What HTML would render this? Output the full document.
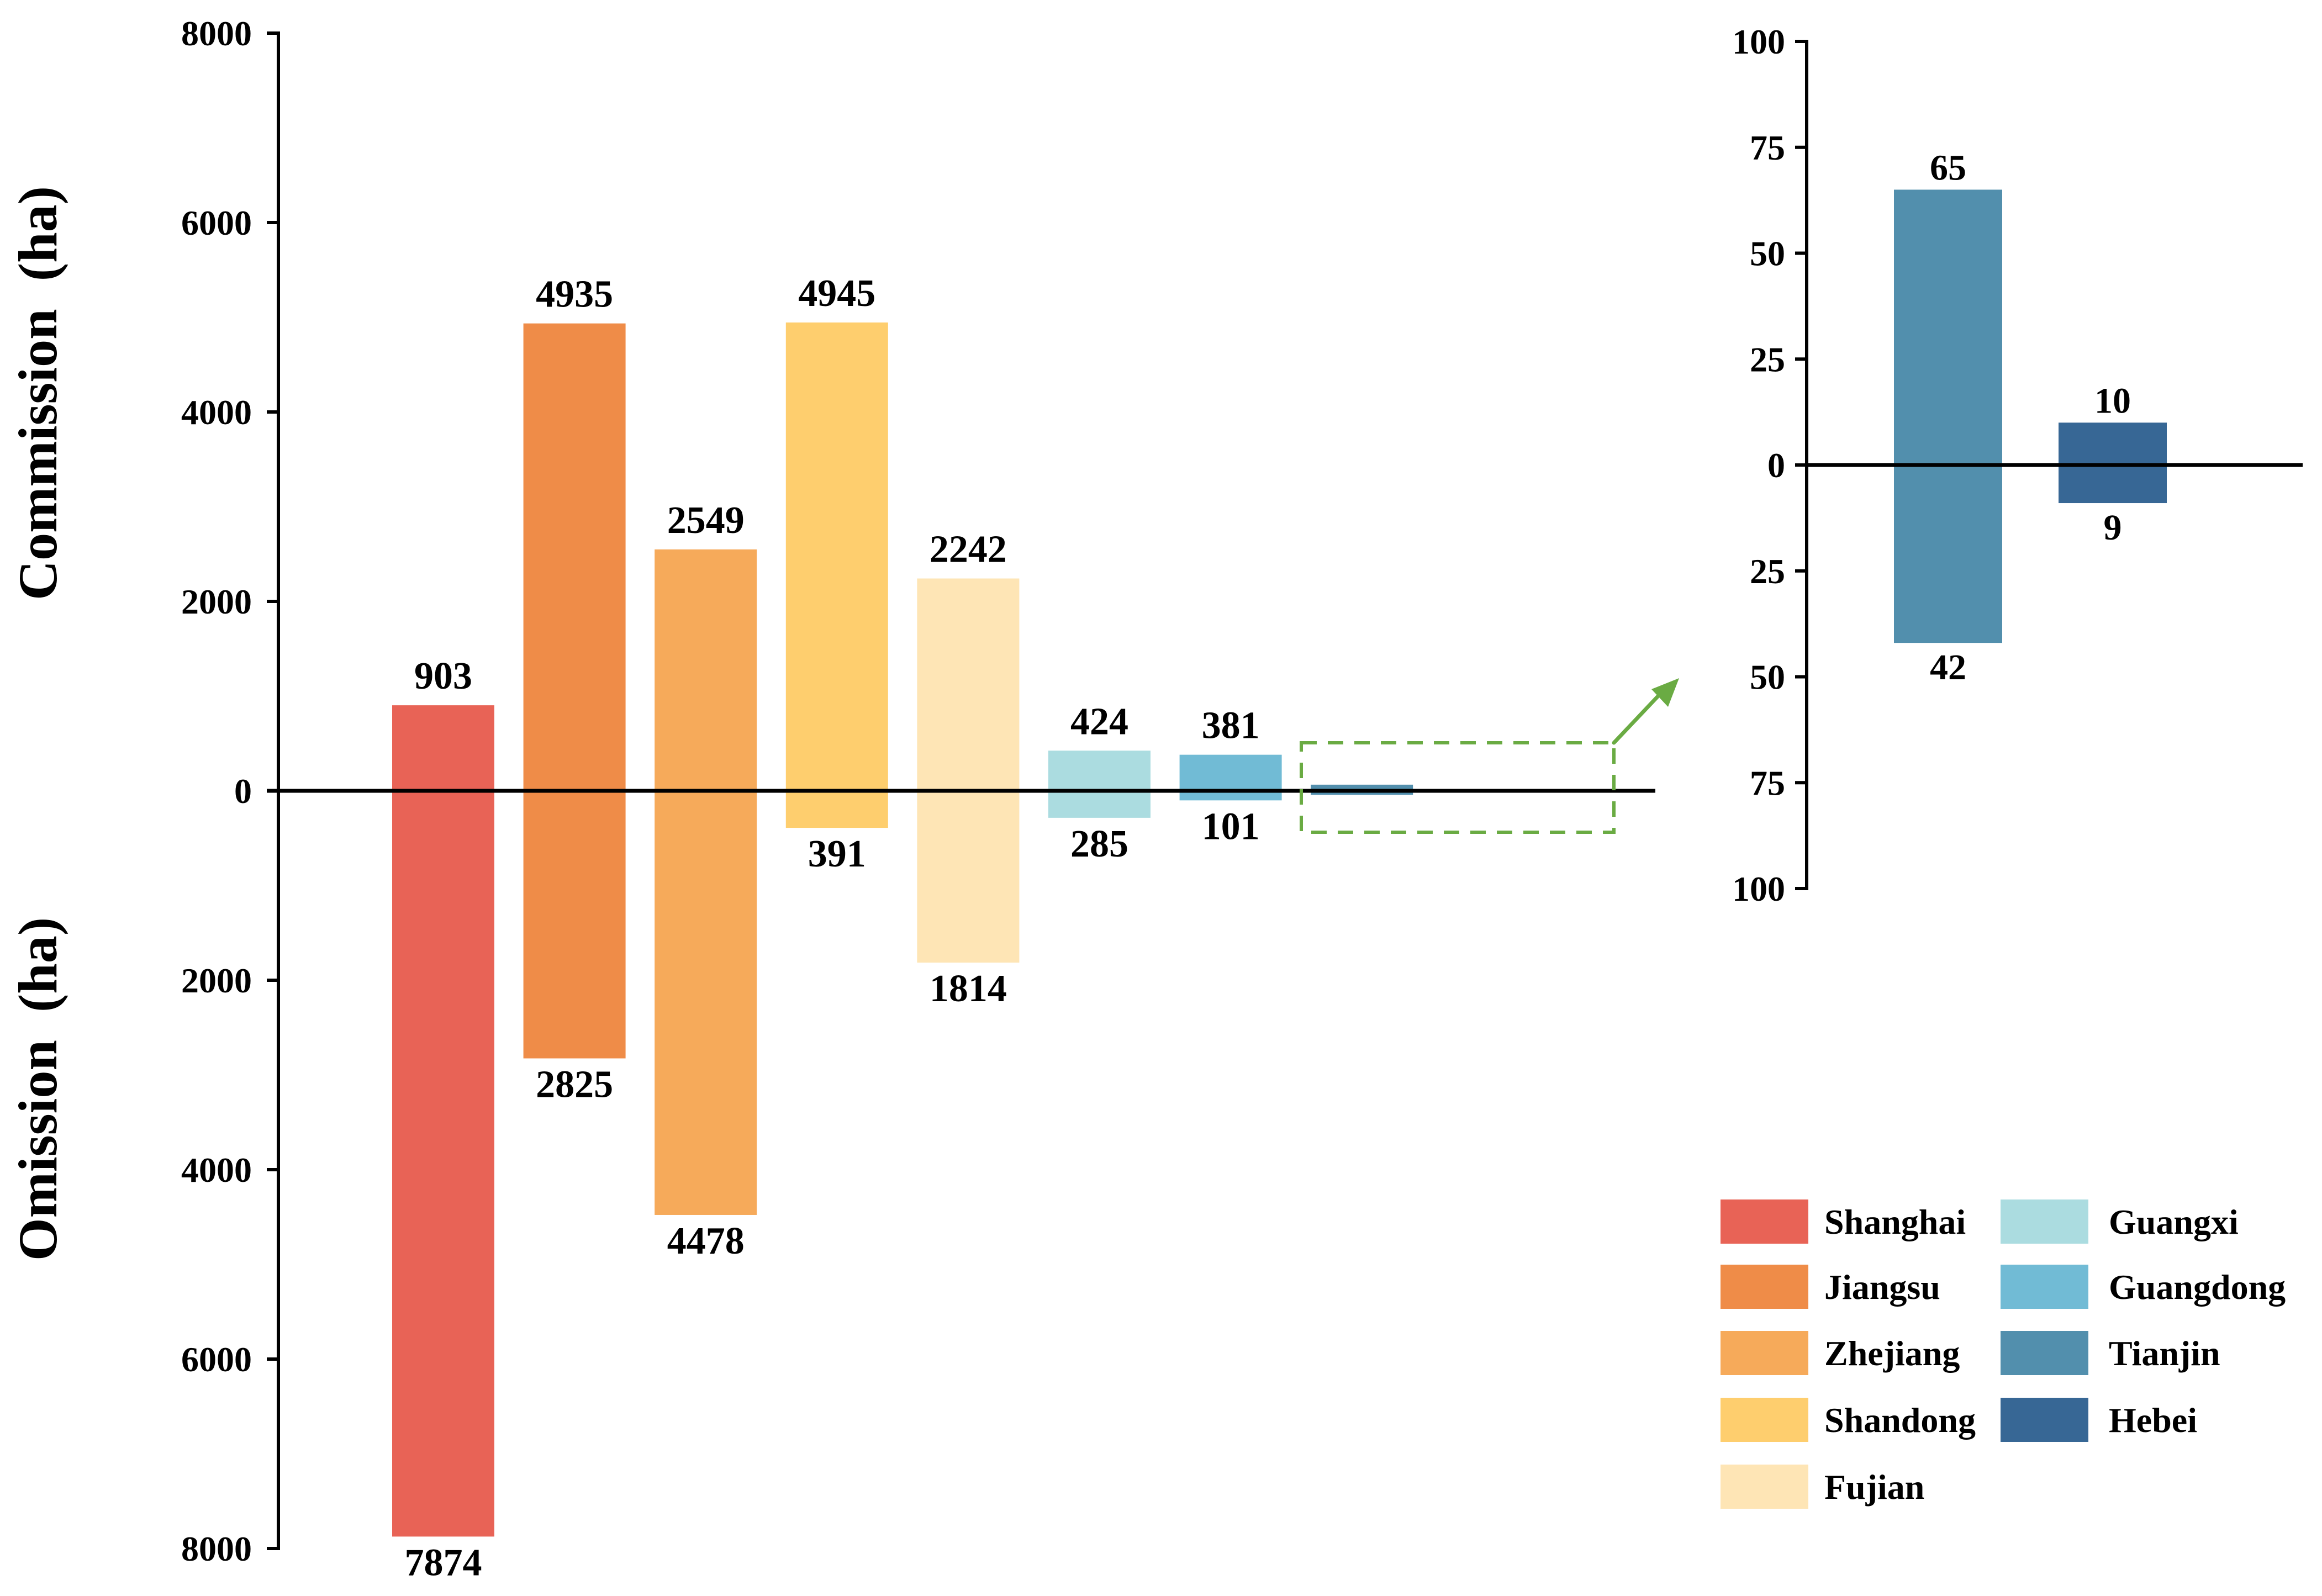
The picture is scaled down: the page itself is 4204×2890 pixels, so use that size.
<!DOCTYPE html>
<html><head><meta charset="utf-8"><style>
html,body{margin:0;padding:0;background:#fff}
svg{display:block}
text{font-family:"Liberation Serif",serif;font-weight:bold;fill:#000}
</style></head><body>
<svg id="chart" width="4204" height="2890" viewBox="0 0 4204 2890" xmlns="http://www.w3.org/2000/svg">
<text transform="translate(102,712) rotate(-90)" text-anchor="middle" font-size="100" xml:space="preserve">Commission  (ha)</text>
<text transform="translate(102,1972) rotate(-90)" text-anchor="middle" font-size="100" xml:space="preserve">Omission  (ha)</text>
<g id="main"></g>
<g id="inset"></g>
<g id="legend"></g>
<rect x="2356" y="1345" width="566" height="162" fill="none" stroke="#6aab43" stroke-width="6" stroke-dasharray="28,20"/>
<line x1="2922" y1="1345" x2="3010" y2="1252" stroke="#6aab43" stroke-width="7" stroke-linecap="round"/>
<polygon points="3040,1228 2990,1248 3020,1280" fill="#6aab43"/>
</svg>
<script>
const NS='http://www.w3.org/2000/svg';
const provinces=['Shanghai','Jiangsu','Zhejiang','Shandong','Fujian','Guangxi','Guangdong','Tianjin','Hebei'];
const colors=['#E86356','#EF8C48','#F6AA5A','#FECE6E','#FEE5B5','#ABDCE0','#71BBD5','#528FAD','#376795'];
const commission=[903,4935,2549,4945,2242,424,381,65,10];
const omission=[7874,2825,4478,391,1814,285,101,42,9];
const mainTicks=[8000,6000,4000,2000,0,2000,4000,6000,8000];
const insetTicks=[100,75,50,25,0,25,50,75,100];
function el(tag,attrs,parent){const e=document.createElementNS(NS,tag);for(const k in attrs)e.setAttribute(k,attrs[k]);parent.appendChild(e);return e;}
const mainG=document.getElementById('main');
const m0=1432, mScale=1372/8000;
const my=v=>m0-v*mScale;
const mx=i=>710+i*237.6;
const mW=185;
let ax=el('line',{x1:504,y1:my(8000)-3,x2:504,y2:my(-8000)+3,stroke:'#000','stroke-width':6},mainG);


mainTicks.forEach((t,i)=>{const v=8000-i*2000;const y=my(v);
 let tk=el('line',{x1:483,y1:y,x2:504,y2:y,stroke:'#000','stroke-width':6},mainG);
 
 
 let tx=el('text',{x:456,y:y+22,'text-anchor':'end','font-size':64},mainG);tx.textContent=t;
 
 
});
for(let i=0;i<8;i++){
 const x=mx(i);const top=my(commission[i]);const bot=my(-omission[i]);
 let r=el('rect',{x:x,y:top,width:mW,height:Math.max(bot-top,1),fill:colors[i]},mainG);
 
 
 if(i<7){
 let a=el('text',{x:x+mW/2,y:top-30,'text-anchor':'middle','font-size':70},mainG);a.textContent=commission[i];
 
 
 let b=el('text',{x:x+mW/2,y:bot+70,'text-anchor':'middle','font-size':70},mainG);b.textContent=omission[i];
 
 
 }
}
let zl=el('line',{x1:483,y1:m0,x2:2997,y2:m0,stroke:'#000','stroke-width':7},mainG);


const inG=document.getElementById('inset');
const i0=842, iScale=767/100;
const iy=v=>i0-v*iScale;
const ix=[3429,3727];const iW=196;
let iax=el('line',{x1:3271,y1:iy(100)-3,x2:3271,y2:iy(-100)+3,stroke:'#000','stroke-width':6},inG);


insetTicks.forEach((t,i)=>{const v=100-i*25;const y=iy(v);
 let tk=el('line',{x1:3250,y1:y,x2:3271,y2:y,stroke:'#000','stroke-width':6},inG);
 
 
 let tx=el('text',{x:3232,y:y+22,'text-anchor':'end','font-size':64},inG);tx.textContent=t;
 
 
});
[7,8].forEach((p,k)=>{
 const x=ix[k];const top=iy(commission[p]);const bot=iy(-omission[p]);
 let r=el('rect',{x:x,y:top,width:iW,height:bot-top,fill:colors[p]},inG);
 
 
 let a=el('text',{x:x+iW/2,y:top-18,'text-anchor':'middle','font-size':66},inG);a.textContent=commission[p];
 
 
 let b=el('text',{x:x+iW/2,y:bot+66,'text-anchor':'middle','font-size':66},inG);b.textContent=omission[p];
 
 
});
let izl=el('line',{x1:3271,y1:i0,x2:4169,y2:i0,stroke:'#000','stroke-width':7},inG);


const lg=document.getElementById('legend');
const rowsY=[2212,2330,2450,2571,2692];
provinces.forEach((p,i)=>{
 const col=i<5?0:1;const row=i<5?i:i-5;
 const sx=col?3622:3115;const cy=rowsY[row];
 let s=el('rect',{x:sx,y:cy-40,width:159,height:80,fill:colors[i]},lg);
 
 
 let t=el('text',{x:col?3818:3303,y:cy+22,'font-size':64},lg);t.textContent=p;
 
 
});
</script>
</body></html>
